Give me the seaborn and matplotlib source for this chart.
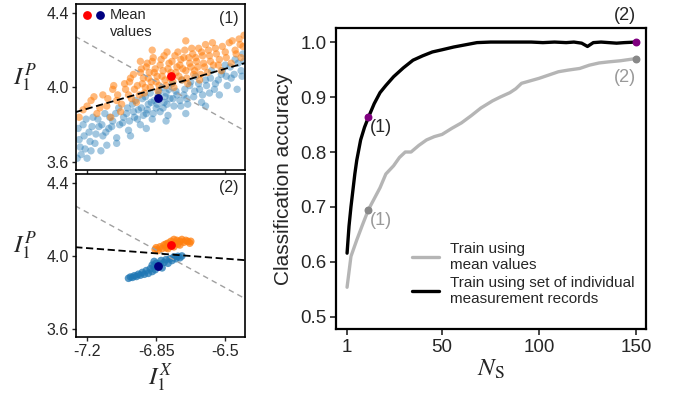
import numpy as np
import pandas as pd
import matplotlib
matplotlib.use("Agg")
import matplotlib.pyplot as plt
import seaborn as sns

# panel (1): individual measurement records (I1X, I1P)
orange1_x = [-7.22, -7.18, -7.15, -7.12, -7.10, -7.07, -7.05, -7.03, -7.01, -6.99, -6.98, -6.96, -6.95, -6.93,
             -6.92, -6.91, -6.90, -6.89, -6.88, -6.87, -6.86, -6.85, -6.84, -6.83, -6.82, -6.81, -6.80, -6.79,
             -6.78, -6.77, -6.76, -6.75, -6.74, -6.73, -6.72, -6.71, -6.70, -6.69, -6.68, -6.67, -6.66, -6.65,
             -6.64, -6.63, -6.62, -6.61, -6.60, -6.59, -6.58, -6.56, -6.55, -6.53, -6.52, -6.50, -6.48, -6.47,
             -6.45, -6.43, -6.42, -6.41,
             -7.24, -7.20, -7.165, -7.135, -7.095, -7.065, -7.045, -7.025, -7.005, -6.985, -6.975, -6.965,
             -6.945, -6.935, -6.925, -6.915, -6.905, -6.895, -6.885, -6.875, -6.865, -6.855, -6.845, -6.835,
             -6.825, -6.815, -6.805, -6.795, -6.785, -6.775, -6.765, -6.755, -6.745, -6.735, -6.725, -6.715,
             -6.705, -6.695, -6.685, -6.675, -6.665, -6.655, -6.645, -6.635, -6.625, -6.615, -6.605, -6.585,
             -6.575, -6.565, -6.545, -6.535, -6.515, -6.495, -6.465, -6.445, -6.425, -6.405, -6.87, -6.70,
             -7.08, -6.93]
orange1_y = [3.88, 3.93, 3.86, 3.96, 3.90, 3.99, 3.93, 3.87, 4.02, 3.96, 4.05, 3.99, 3.92, 4.08,
             4.02, 3.97, 4.11, 4.05, 4.00, 4.14, 4.08, 4.03, 3.98, 4.12, 4.06, 4.17, 4.01, 4.10,
             4.05, 4.14, 4.00, 4.08, 4.19, 4.12, 4.04, 4.16, 4.09, 4.02, 4.13, 4.21, 4.07, 4.16,
             4.11, 4.04, 4.19, 4.13, 4.23, 4.08, 4.17, 4.12, 4.21, 4.15, 4.09, 4.19, 4.24, 4.13,
             4.20, 4.26, 4.16, 4.22,
             3.84, 3.90, 3.95, 3.89, 3.94, 4.01, 3.96, 3.91, 3.99, 4.03, 3.94, 4.07,
             4.01, 3.96, 4.10, 4.05, 4.00, 4.13, 4.08, 4.03, 4.16, 4.10, 4.06, 4.01,
             4.15, 4.09, 4.04, 4.19, 4.13, 4.08, 4.03, 4.17, 4.11, 4.06, 4.15, 4.10,
             4.20, 4.05, 4.16, 4.11, 4.18, 4.09, 4.14, 4.21, 4.07, 4.17, 4.11, 4.20,
             4.14, 4.24, 4.18, 4.12, 4.22, 4.16, 4.25, 4.18, 4.23, 4.28, 4.20, 4.25,
             3.84, 4.14]
blue1_x = [-7.25, -7.24, -7.22, -7.21, -7.19, -7.17, -7.16, -7.14, -7.12, -7.11, -7.09, -7.07, -7.05, -7.04,
           -7.02, -7.00, -6.99, -6.97, -6.96, -6.94, -6.93, -6.92, -6.90, -6.89, -6.88, -6.87, -6.86, -6.85,
           -6.84, -6.83, -6.82, -6.81, -6.80, -6.79, -6.78, -6.77, -6.76, -6.75, -6.73, -6.72, -6.71, -6.69,
           -6.68, -6.66, -6.65, -6.63, -6.62, -6.60, -6.58, -6.57, -6.55, -6.53, -6.52, -6.50, -6.49, -6.47,
           -6.45, -6.44, -6.42, -6.41, -7.23, -7.18, -7.10,
           -7.245, -7.235, -7.215, -7.205, -7.185, -7.175, -7.155, -7.145, -7.125, -7.105, -7.085, -7.075,
           -7.055, -7.035, -7.015, -6.995, -6.985, -6.965, -6.955, -6.945, -6.925, -6.915, -6.905, -6.895,
           -6.875, -6.865, -6.845, -6.835, -6.815, -6.805, -6.795, -6.785, -6.765, -6.745, -6.725, -6.705,
           -6.695, -6.675, -6.655, -6.635, -6.615, -6.595, -6.575, -6.555, -6.535, -6.515, -6.495, -6.475,
           -6.455, -6.435, -6.415, -6.405, -7.13, -7.05, -6.98, -6.90, -6.80, -7.20, -6.70, -6.60]
blue1_y = [3.62, 3.72, 3.80, 3.67, 3.76, 3.84, 3.70, 3.79, 3.74, 3.86, 3.78, 3.82, 3.73, 3.89,
           3.81, 3.86, 3.77, 3.91, 3.84, 3.88, 3.80, 3.94, 3.86, 3.91, 3.97, 3.83, 3.93, 3.89,
           3.96, 3.87, 4.00, 3.92, 3.97, 3.85, 3.94, 4.02, 3.90, 3.98, 3.93, 4.04, 3.96, 3.91,
           4.01, 3.95, 4.06, 3.99, 3.92, 4.04, 3.97, 4.09, 4.02, 3.96, 4.07, 4.12, 4.01, 4.05,
           4.15, 3.99, 4.09, 4.18, 3.64, 3.66, 3.69,
           3.78, 3.68, 3.74, 3.83, 3.71, 3.79, 3.75, 3.83, 3.80, 3.76, 3.84, 3.79,
           3.86, 3.80, 3.84, 3.89, 3.82, 3.87, 3.93, 3.83, 3.89, 3.85, 3.95, 3.88,
           3.92, 3.86, 3.91, 3.98, 3.89, 3.95, 3.91, 3.99, 3.94, 3.96, 3.90, 3.99,
           3.94, 4.03, 3.98, 4.02, 3.96, 4.01, 4.05, 3.99, 4.04, 4.09, 4.06, 4.11,
           4.07, 4.13, 4.06, 4.14, 3.66, 3.70, 3.74, 3.78, 3.82, 3.62, 3.86, 3.90]

# panel (2): averaged records
orange2_x = [-6.855, -6.85, -6.84, -6.83, -6.82, -6.81, -6.80, -6.79, -6.785, -6.775, -6.77, -6.76, -6.755,
             -6.745, -6.74, -6.73, -6.72, -6.71, -6.70, -6.69, -6.68, -6.675, -6.79, -6.80, -6.76, -6.73]
orange2_y = [4.035, 4.045, 4.03, 4.05, 4.04, 4.06, 4.045, 4.07, 4.055, 4.08, 4.06, 4.09, 4.07,
             4.085, 4.065, 4.08, 4.09, 4.075, 4.085, 4.08, 4.07, 4.08, 4.04, 4.065, 4.05, 4.06]
blue2_x = [-6.99, -6.98, -6.97, -6.96, -6.95, -6.94, -6.93, -6.92, -6.91, -6.90, -6.89, -6.88, -6.87, -6.86,
           -6.855, -6.85, -6.84, -6.83, -6.825, -6.82, -6.81, -6.80, -6.79, -6.78, -6.77, -6.76, -6.75,
           -6.74, -6.73, -6.72, -6.86, -6.87]
blue2_y = [3.878, 3.885, 3.883, 3.892, 3.888, 3.90, 3.895, 3.91, 3.90, 3.92, 3.905, 3.93, 3.915, 3.945,
           3.925, 3.96, 3.94, 3.955, 3.975, 3.935, 3.965, 3.98, 3.96, 3.985, 3.975, 3.995, 3.985,
           3.998, 3.99, 4.00, 3.97, 3.95]

mean_red = (-6.774, 4.061)
mean_navy = (-6.84, 3.945)

# decision boundaries
bound_x = [-7.26, -6.40]
gray_bound_y = [4.274, 3.767]
black_bound1_y = [3.867, 4.131]
black_bound2_y = [4.048, 3.977]

# classification accuracy vs N_S
n_black = [1, 2, 3, 4, 5, 6, 8, 10, 12, 15, 18, 21, 25, 30, 35, 40, 45, 50, 56, 62, 68, 75, 82, 90,
           96, 102, 108, 114, 118, 122, 125, 128, 132, 136, 140, 144, 150]
acc_black = [0.616, 0.665, 0.70, 0.73, 0.76, 0.785, 0.822, 0.845, 0.863, 0.888, 0.908, 0.921, 0.937,
             0.953, 0.967, 0.975, 0.982, 0.986, 0.991, 0.995, 0.999, 1.0, 1.0, 1.0, 1.0, 0.999, 1.0,
             0.999, 1.0, 0.998, 0.992, 0.999, 1.0, 0.999, 0.998, 0.999, 1.0]
n_gray = [1, 3, 6, 9, 12, 15, 18, 21, 25, 28, 31, 34, 38, 42, 46, 50, 55, 60, 65, 70, 76, 80, 85, 88,
          91, 96, 100, 105, 110, 115, 121, 126, 131, 136, 142, 146, 150]
acc_gray = [0.554, 0.61, 0.64, 0.668, 0.695, 0.715, 0.735, 0.76, 0.775, 0.79, 0.80, 0.80, 0.812, 0.822,
            0.828, 0.832, 0.843, 0.853, 0.866, 0.88, 0.893, 0.90, 0.908, 0.915, 0.925, 0.93, 0.934,
            0.94, 0.946, 0.949, 0.952, 0.958, 0.962, 0.964, 0.966, 0.968, 0.970]

sns.set_style("ticks")
plt.rcParams['font.family'] = ['Liberation Sans', 'DejaVu Sans']
plt.rcParams['mathtext.fontset'] = 'stix'

ORANGE = "#ff7f0e"
BLUE = "#1f77b4"

fig = plt.figure(figsize=(6.75, 3.95), dpi=100)
ax1 = fig.add_axes([0.1126, 0.5696, 0.2504, 0.4204])
ax2 = fig.add_axes([0.1126, 0.1468, 0.2504, 0.4127])
ax3 = fig.add_axes([0.4978, 0.167, 0.4593, 0.762])

# scatter panels
sns.scatterplot(x=blue1_x, y=blue1_y, color=BLUE, s=28, alpha=0.42, edgecolor="none", ax=ax1)
sns.scatterplot(x=orange1_x, y=orange1_y, color=ORANGE, s=28, alpha=0.55, edgecolor="none", ax=ax1)
sns.scatterplot(x=blue2_x, y=blue2_y, color=BLUE, s=30, alpha=0.75, edgecolor="none", ax=ax2)
sns.scatterplot(x=orange2_x, y=orange2_y, color=ORANGE, s=30, alpha=0.75, edgecolor="none", ax=ax2)

for ax, by in [(ax1, black_bound1_y), (ax2, black_bound2_y)]:
    ax.plot(bound_x, gray_bound_y, ls=(0, (4, 3)), color="#a0a0a0", lw=1)
    ax.plot(bound_x, by, ls=(0, (4, 2)), color="black", lw=1.3)
    ax.scatter(*mean_red, color="red", s=28, zorder=5)
    ax.scatter(*mean_navy, color="navy", s=28, zorder=5)
    ax.set_xlim(-7.256, -6.40)
    ax.set_ylim(3.557, 4.448)
    ax.set_xticks([-7.2, -6.85, -6.5])
    ax.set_yticks([3.6, 4.0, 4.4])
    ax.tick_params(direction="out", length=3, width=1, labelsize=11.5, pad=2)
    for sp in ax.spines.values():
        sp.set_visible(True)
        sp.set_linewidth(1.2)
        sp.set_color("black")
    ax.set_ylabel(r"$I_1^P$", fontsize=18, rotation=0)
    ax.yaxis.set_label_coords(-0.30, 0.46)

ax1.set_xticklabels([])
ax2.set_xticklabels(["-7.2", "-6.85", "-6.5"])
ax1.set_yticklabels(["3.6", "4.0", "4.4"])
ax2.set_yticklabels(["3.6", "4.0", "4.4"])
ax2.set_xlabel(r"$I_1^X$", fontsize=18, labelpad=2)

ax1.scatter(-7.2, 4.39, color="red", s=28)
ax1.scatter(-7.134, 4.39, color="navy", s=28)
ax1.text(-7.085, 4.39, "Mean", fontsize=10.5, va="center", ha="left")
ax1.text(-7.083, 4.30, "values", fontsize=10.5, va="center", ha="left")
ax1.text(0.96, 0.91, "(1)", transform=ax1.transAxes, fontsize=11.5, ha="right", va="center")
ax2.text(0.96, 0.917, "(2)", transform=ax2.transAxes, fontsize=11.5, ha="right", va="center")

# accuracy panel
df = pd.concat([
    pd.DataFrame({"N": n_gray, "acc": acc_gray, "method": "Train using\nmean values"}),
    pd.DataFrame({"N": n_black, "acc": acc_black,
                  "method": "Train using set of individual\nmeasurement records"}),
])
sns.lineplot(data=df, x="N", y="acc", hue="method", palette=["#b5b5b5", "black"], lw=2.4, ax=ax3)

ax3.scatter([12, 150], [acc_black[8], acc_black[-1]], color="purple", s=22, zorder=5, clip_on=False)
ax3.scatter([12, 150], [acc_gray[4], acc_gray[-1]], color="#888888", s=22, zorder=5, clip_on=False)
ax3.text(13.0, 0.845, "(1)", fontsize=13, va="center", ha="left")
ax3.text(13.0, 0.675, "(1)", fontsize=13, va="center", ha="left", color="#999999")
ax3.text(150, 0.935, "(2)", fontsize=13, va="center", ha="right", color="#999999")
ax3.text(150, 1.049, "(2)", fontsize=13, va="center", ha="right", clip_on=False)

ax3.set_xlim(-4.7, 155.2)
ax3.set_ylim(0.478, 1.0255)
ax3.set_xticks([1, 50, 100, 150])
ax3.set_yticks([0.5, 0.6, 0.7, 0.8, 0.9, 1.0])
ax3.tick_params(direction="out", length=4, width=1.2, labelsize=13.5, pad=3)
for sp in ax3.spines.values():
    sp.set_visible(True)
    sp.set_linewidth(1.6)
    sp.set_color("black")
ax3.set_xlabel(r"$N_{\rm S}$", fontsize=18, labelpad=1)
ax3.set_ylabel("Classification accuracy", fontsize=15, labelpad=5)
ax3.legend(loc="upper left", bbox_to_anchor=(0.245, 0.29), frameon=False, fontsize=11,
           handlelength=1.75, handletextpad=0.75, borderpad=0, borderaxespad=0, labelspacing=0.25)

fig.savefig("out.png", dpi=100)
